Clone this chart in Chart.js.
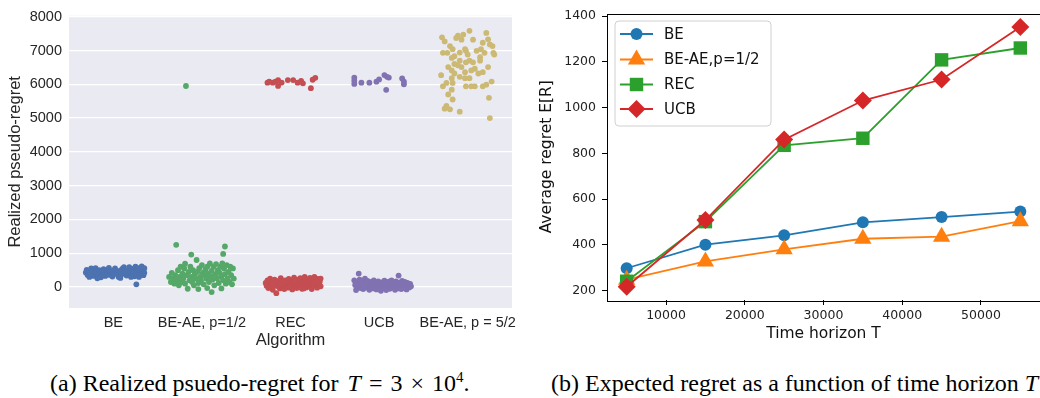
<!DOCTYPE html>
<html>
<head>
<meta charset="utf-8">
<script src="https://cdn.jsdelivr.net/npm/chart.js@4.4.1/dist/chart.umd.min.js"></script>
<style>
  html, body { margin: 0; padding: 0; background: #fff; overflow: hidden; width: 1040px; height: 398px; }
  #strip { position: absolute; left: 0; top: 0; }
  #lines { position: absolute; left: 530px; top: 0; }
  .cap { position: absolute; top: 369px; font-family: "Liberation Serif", serif; font-size: 24px; color: #000; white-space: nowrap; line-height: 28px; }
  .cap sup { font-size: 15px; line-height: 0; }
  .cap .op { margin: 0 8px; }
  #capA { left: 50px; }
  #capB { left: 551px; }
</style>
</head>
<body>
<canvas id="strip" width="530" height="350" style="width:530px;height:350px"></canvas>
<canvas id="lines" width="520" height="350" style="width:520px;height:350px"></canvas>
<div class="cap" id="capA">(a) Realized psuedo-regret for <i style="margin-left:3px">T</i><span class="op">=</span>3<span class="op">×</span>10<sup>4</sup>.</div>
<div class="cap" id="capB">(b) Expected regret as a function of time horizon <i>T</i></div>
<script>
/* (a) strip plot data: realized pseudo-regret per run, jitter is horizontal offset inside the category */
const algorithms = ["BE", "BE-AE, p=1/2", "REC", "UCB", "BE-AE, p = 5/2"];
const stripColors = ["#4C72B0", "#55A868", "#C44E52", "#8172B2", "#CCB974"];

const beRegret = [430, 510, 360, 470, 300, 550, 400, 330, 480, 560, 410, 350, 500, 440, 290, 380, 530, 460, 330, 410,
  500, 570, 360, 440, 310, 490, 400, 550, 460, 370, 300, 480, 420, 540, 390, 590, 450, 340, 500, 420,
  590, 470, 380, 540, 440, 320, 600, 500, 400, 560, 300, 460, 530, 380, 610, 430, 500, 350, 560, 420,
  80, 260, 270, 380, 300];
const beJitter = [-0.31, -0.30, -0.29, -0.27, -0.27, -0.25, -0.24, -0.22, -0.21, -0.20, -0.19, -0.17, -0.16, -0.15, -0.14, -0.12, -0.11, -0.10, -0.09, -0.07,
  -0.06, -0.05, -0.04, -0.03, -0.01, 0.00, 0.01, 0.02, 0.04, 0.05, 0.06, 0.07, 0.09, 0.10, 0.11, 0.12, 0.13, 0.15, 0.16, 0.17,
  0.18, 0.19, 0.21, 0.22, 0.23, 0.24, 0.25, 0.26, 0.27, 0.28, 0.29, 0.30, 0.31, 0.31, 0.32, 0.33, 0.34, 0.34, 0.35, 0.35,
  0.26, -0.18, 0.08, -0.26, 0.20];

const beaeHalfRegret = [300, 150, 420, 250, 100, 350, 1250, 200, 500, 50, 300, 600, 150, 400, 250, 550, 690, 100, 5950, 350,
  -50, 450, 200, 600, 960, 300, 150, 500, 50, 380, 250, 800, 450, 120, -60, 560, 300, 200, 650, 420,
  80, 350, 520, 250, -30, 600, 400, 150, 700, 320, -150, 480, 220, 600, 50, 380, 680, 260, 500, 120,
  420, 600, -40, 300, 700, 980, 200, 550, 1200, 380, 100, 650, 250, 450, 150, 600, 350, 80, 550, 250];
const beaeHalfJitter = [-0.37, -0.35, -0.34, -0.33, -0.31, -0.30, -0.29, -0.28, -0.27, -0.26, -0.25, -0.24, -0.23, -0.22, -0.21, -0.20, -0.19, -0.19, -0.18, -0.17,
  -0.16, -0.15, -0.14, -0.13, -0.12, -0.12, -0.11, -0.10, -0.09, -0.08, -0.07, -0.06, -0.05, -0.04, -0.04, -0.03, -0.02, -0.01, 0.00, 0.01,
  0.02, 0.03, 0.04, 0.05, 0.06, 0.06, 0.07, 0.08, 0.09, 0.10, 0.11, 0.11, 0.12, 0.13, 0.14, 0.15, 0.16, 0.17, 0.18, 0.19,
  0.20, 0.21, 0.22, 0.22, 0.23, 0.24, 0.24, 0.25, 0.26, 0.26, 0.27, 0.28, 0.29, 0.30, 0.31, 0.32, 0.33, 0.34, 0.35, 0.36];

const recRegret = [120, 40, 200, -30, 90, 250, 10, 150, -80, 60, 220, 110, -180, 30, 180, 80, -40, 260, 140, 20,
  100, -60, 200, 50, 160, -20, 240, 90, 10, 180, -70, 120, 280, 40, 150, -30, 210, 70, 0, 260,
  130, -50, 190, 60, 300, 100, -10, 230, 150, 30, 270, 80, -60, 200, 120, 300, 40, 180, -20, 240,
  90, 160, 20, 250, 160, 230, -40, 60,
  6048, 6080, 6048, 6077, 6125, 5952, 6050, 6125, 6125, 6048, 6100, 6029, 5885, 6135, 6192];
const recJitter = [-0.28, -0.27, -0.26, -0.25, -0.24, -0.23, -0.22, -0.21, -0.20, -0.19, -0.18, -0.17, -0.16, -0.15, -0.14, -0.13, -0.12, -0.11, -0.10, -0.09,
  -0.08, -0.07, -0.06, -0.05, -0.04, -0.03, -0.02, -0.01, 0.00, 0.01, 0.02, 0.03, 0.04, 0.05, 0.06, 0.07, 0.08, 0.09, 0.10, 0.11,
  0.12, 0.13, 0.14, 0.15, 0.16, 0.17, 0.18, 0.19, 0.20, 0.21, 0.22, 0.23, 0.24, 0.25, 0.26, 0.27, 0.28, 0.29, 0.30, 0.31,
  0.32, 0.33, 0.34, 0.34, -0.20, 0.05, 0.15, -0.10,
  -0.26, -0.24, -0.20, -0.17, -0.14, -0.14, -0.10, -0.03, 0.03, 0.08, 0.12, 0.14, 0.23, 0.25, 0.28];

const ucbRegret = [200, 60, -90, 140, 10, 400, 220, -30, 90, 170, -60, 40, 250, 110, -20, 180, 70, -80, 20, 150,
  90, -40, 200, 30, 120, -70, 60, 170, 0, 100, -110, 140, 40, -30, 190, 80, -90, 120, 20, 160,
  -50, 60, 200, -10, 110, 40, -80, 170, 70, -40, 340, 130, 10, -60, 180, 90, -20, 150, 30, -70,
  120, 50, -10, 90, 20,
  6200, 6106, 6010, 6048, 6048, 6077, 6144, 6272, 6221, 6200, 5837, 6173, 6077, 5998];
const ucbJitter = [-0.28, -0.27, -0.26, -0.25, -0.24, -0.23, -0.22, -0.21, -0.20, -0.19, -0.18, -0.17, -0.16, -0.15, -0.14, -0.13, -0.12, -0.11, -0.10, -0.09,
  -0.08, -0.07, -0.06, -0.05, -0.04, -0.03, -0.02, -0.01, 0.00, 0.01, 0.02, 0.03, 0.04, 0.05, 0.06, 0.07, 0.08, 0.09, 0.10, 0.11,
  0.12, 0.13, 0.14, 0.15, 0.16, 0.17, 0.18, 0.19, 0.20, 0.21, 0.22, 0.23, 0.24, 0.25, 0.26, 0.27, 0.28, 0.29, 0.30, 0.31,
  0.32, 0.33, 0.34, 0.35, 0.36,
  -0.28, -0.28, -0.28, -0.20, -0.11, -0.03, 0.00, 0.06, 0.09, 0.11, 0.08, 0.26, 0.28, 0.28];

const beaeFiveRegret = [7390, 7270, 7130, 6930, 6930, 6780, 6830, 7370, 7440, 7470, 7320, 7583, 7320, 7040, 6990, 6940, 6600, 6510, 6410, 6560,
  6510, 6650, 6700, 6650, 6460, 6700, 6320, 6360, 7520, 7330, 7180, 7130, 6930, 6880, 6930, 6510, 6080, 5990, 5600, 5000,
  5940, 5940, 6180, 6180, 6220, 6040, 6040, 6270, 5940, 5840, 5700, 5550, 5360, 5260, 5280, 5190, 6180, 6320, 6410, 6360,
  6990, 7040, 7230, 6800, 6880, 6700, 7040, 5940, 5940];
const beaeFiveJitter = [-0.29, -0.26, -0.20, -0.23, -0.28, -0.18, -0.15, -0.13, -0.11, -0.05, -0.07, 0.02, 0.06, -0.03, -0.02, -0.09, -0.15, -0.22, -0.18, -0.11,
  -0.07, -0.02, 0.02, 0.06, 0.08, 0.14, 0.12, 0.17, 0.21, 0.23, 0.25, 0.28, 0.29, 0.30, 0.19, 0.23, 0.27, 0.21, 0.24, 0.25,
  0.17, 0.08, 0.02, -0.03, -0.09, -0.17, -0.24, -0.30, -0.28, -0.18, -0.22, -0.17, -0.24, -0.20, -0.26, -0.09, -0.18, -0.15, 0.04, -0.03,
  0.10, 0.15, 0.17, 0.14, 0.00, -0.09, -0.17, 0.04, -0.02];

const stripValues = [beRegret, beaeHalfRegret, recRegret, ucbRegret, beaeFiveRegret];
const stripJitters = [beJitter, beaeHalfJitter, recJitter, ucbJitter, beaeFiveJitter];
const stripTicks = [0, 1000, 2000, 3000, 4000, 5000, 6000, 7000, 8000];

/* (b) expected regret vs time horizon */
const horizons = [5000, 15000, 25000, 35000, 45000, 55000];
const regretBE = [297, 400, 441, 498, 521, 545];
const regretBEAE = [247, 327, 380, 426, 435, 503];
const regretREC = [240, 501, 835, 866, 1209, 1261];
const regretUCB = [216, 508, 860, 1031, 1123, 1353];
const lineNames = ["BE", "BE-AE,p=1/2", "REC", "UCB"];
const lineTicksX = [10000, 20000, 30000, 40000, 50000];
const lineTicksY = [200, 400, 600, 800, 1000, 1200, 1400];

const plainNumber = v => String(v);

const plotBackground = {
  id: 'plotBackground',
  beforeDraw(chart, args, opts) {
    const {ctx, chartArea: a} = chart;
    ctx.save();
    ctx.fillStyle = opts.color;
    ctx.fillRect(a.left, a.top, a.width, a.height);
    ctx.restore();
  }
};

new Chart(document.getElementById('strip'), {
  type: 'scatter',
  data: {
    datasets: stripValues.map((vals, k) => ({
      label: algorithms[k],
      data: vals.map((v, i) => ({x: k + stripJitters[k][i], y: v})),
      backgroundColor: stripColors[k],
      borderWidth: 0,
      pointRadius: 2.9,
      pointHoverRadius: 2.9
    }))
  },
  plugins: [plotBackground],
  options: {
    responsive: false,
    animation: false,
    layout: {padding: {top: 7, right: 18}},
    plugins: {
      legend: {display: false},
      tooltip: {enabled: false},
      plotBackground: {color: '#EAEAF2'}
    },
    scales: {
      x: {
        type: 'linear', min: -0.5, max: 4.5,
        afterBuildTicks: s => { s.ticks = algorithms.map((n, i) => ({value: i})); },
        afterFit: s => { s.height = 42; },
        grid: {display: false, drawTicks: false},
        border: {display: false},
        ticks: {
          autoSkip: false, maxRotation: 0, padding: 6, color: '#262626',
          font: {family: 'Liberation Sans', size: 14.5},
          callback: v => algorithms[v]
        },
        title: {display: true, text: 'Algorithm', color: '#262626', padding: {top: 0, bottom: 0},
          font: {family: 'Liberation Sans', size: 16.5}}
      },
      y: {
        min: -620, max: 8030,
        afterBuildTicks: s => { s.ticks = stripTicks.map(v => ({value: v})); },
        afterFit: s => { s.width = 69; },
        grid: {color: '#ffffff', lineWidth: 1.2, drawTicks: false},
        border: {display: false},
        ticks: {padding: 7, color: '#262626', font: {family: 'Liberation Sans', size: 14.5}, callback: plainNumber},
        title: {display: true, text: 'Realized pseudo-regret', color: '#262626', padding: {top: 6, bottom: 0},
          font: {family: 'Liberation Sans', size: 16.5}}
      }
    }
  }
});

const axisFrame = {
  id: 'axisFrame',
  afterDatasetsDraw(chart) {
    const {ctx, chartArea: a} = chart;
    ctx.save();
    ctx.strokeStyle = '#000';
    ctx.lineWidth = 1;
    ctx.strokeRect(Math.round(a.left) + 0.5, Math.round(a.top) + 0.5, Math.round(a.width), Math.round(a.height));
    ctx.restore();
  }
};

function drawMarker(ctx, style, r, x, y) {
  ctx.beginPath();
  if (style === 'circle') {
    ctx.arc(x, y, r, 0, Math.PI * 2);
  } else if (style === 'triangle') {
    for (let k = 0; k < 3; k++) {
      const ang = k * 2 * Math.PI / 3;
      const px = x + Math.sin(ang) * r, py = y - Math.cos(ang) * r;
      k ? ctx.lineTo(px, py) : ctx.moveTo(px, py);
    }
  } else if (style === 'rect') {
    const h = r * Math.SQRT1_2;
    ctx.rect(x - h, y - h, 2 * h, 2 * h);
  } else {
    ctx.moveTo(x - r, y); ctx.lineTo(x, y - r); ctx.lineTo(x + r, y); ctx.lineTo(x, y + r);
  }
  ctx.closePath();
  ctx.fill();
}

const boxLegend = {
  id: 'boxLegend',
  afterDraw(chart) {
    const {ctx} = chart;
    const bx = 85, by = 21, bw = 156, bh = 105, rad = 4;
    ctx.save();
    ctx.beginPath();
    ctx.moveTo(bx + rad, by);
    ctx.arcTo(bx + bw, by, bx + bw, by + bh, rad);
    ctx.arcTo(bx + bw, by + bh, bx, by + bh, rad);
    ctx.arcTo(bx, by + bh, bx, by, rad);
    ctx.arcTo(bx, by, bx + bw, by, rad);
    ctx.closePath();
    ctx.fillStyle = 'rgba(255,255,255,0.8)';
    ctx.fill();
    ctx.strokeStyle = '#d0d0d0';
    ctx.lineWidth = 1;
    ctx.stroke();
    const rows = [34, 59.5, 84.5, 109];
    chart.data.datasets.forEach((ds, i) => {
      const y = rows[i];
      ctx.strokeStyle = ds.borderColor;
      ctx.fillStyle = ds.borderColor;
      ctx.lineWidth = ds.borderWidth;
      ctx.beginPath();
      ctx.moveTo(90, y); ctx.lineTo(123, y);
      ctx.stroke();
      drawMarker(ctx, ds.pointStyle, ds.pointRadius, 106.5, y);
      ctx.fillStyle = '#111';
      ctx.font = '15px "DejaVu Sans"';
      ctx.textBaseline = 'middle';
      ctx.fillText(ds.label, 134, y + 1);
    });
    ctx.restore();
  }
};

const lineSeries = [regretBE, regretBEAE, regretREC, regretUCB];
const lineColors = ['#1f77b4', '#ff7f0e', '#2ca02c', '#d62728'];
const lineMarkers = ['circle', 'triangle', 'rect', 'rectRot'];
const markerRadius = [6, 10, 9.5, 9];

new Chart(document.getElementById('lines'), {
  type: 'line',
  data: {
    datasets: lineSeries.map((vals, k) => ({
      label: lineNames[k],
      data: vals.map((v, i) => ({x: horizons[i], y: v})),
      borderColor: lineColors[k],
      backgroundColor: lineColors[k],
      pointBackgroundColor: lineColors[k],
      pointBorderColor: lineColors[k],
      borderWidth: 1.8,
      pointBorderWidth: 0,
      pointStyle: lineMarkers[k],
      pointRadius: markerRadius[k],
      pointHoverRadius: markerRadius[k],
      tension: 0,
      fill: false,
      clip: false,
      order: 3 - k
    }))
  },
  plugins: [axisFrame, boxLegend],
  options: {
    responsive: false,
    animation: false,
    layout: {padding: {top: 13, right: 3}},
    plugins: {legend: {display: false}, tooltip: {enabled: false}},
    scales: {
      x: {
        type: 'linear', min: 2500, max: 57500,
        afterBuildTicks: s => { s.ticks = lineTicksX.map(v => ({value: v})); },
        afterFit: s => { s.height = 50; },
        grid: {drawOnChartArea: false, drawTicks: true, tickLength: 5, color: '#000'},
        border: {display: false},
        ticks: {padding: 3, color: '#222', maxRotation: 0, font: {family: 'DejaVu Sans', size: 12.5}, callback: plainNumber},
        title: {display: true, text: 'Time horizon T', color: '#111', padding: {top: 0, bottom: 7},
          font: {family: 'DejaVu Sans', size: 15.5}}
      },
      y: {
        min: 158, max: 1412,
        afterBuildTicks: s => { s.ticks = lineTicksY.map(v => ({value: v})); },
        afterFit: s => { s.width = 77; },
        grid: {drawOnChartArea: false, drawTicks: true, tickLength: 5, color: '#000'},
        border: {display: false},
        ticks: {padding: 6, color: '#222', font: {family: 'DejaVu Sans', size: 12.5}, callback: plainNumber},
        title: {display: true, text: 'Average regret E[R]', color: '#111', padding: {top: 8, bottom: 0},
          font: {family: 'DejaVu Sans', size: 15.5}}
      }
    }
  }
});
</script>
</body>
</html>
